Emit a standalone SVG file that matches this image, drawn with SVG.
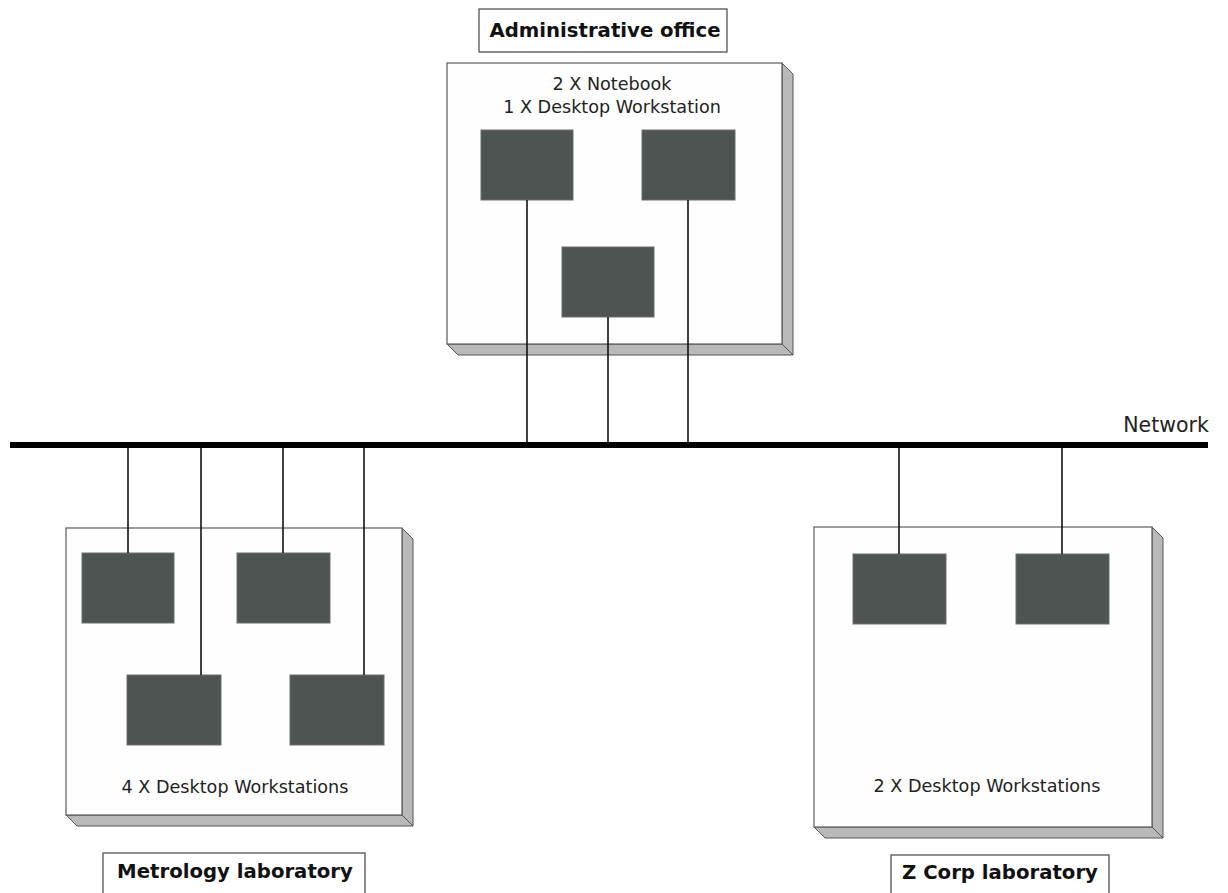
<svg xmlns="http://www.w3.org/2000/svg" width="1228" height="893" viewBox="0 0 1228 893">
  <style>
    .face { fill: #fefefe; stroke: #5a5a5a; stroke-width: 1.2; }
    .side { fill: #b9b9b9; stroke: #555; stroke-width: 1; }
    .pc { fill: #4e5451; stroke: #6a6f6c; stroke-width: 1; }
    .wire { stroke: #111; stroke-width: 1.6; fill: none; }
    .bus { stroke: #000; stroke-width: 6; }
    .title-box { fill: #fff; stroke: #444; stroke-width: 1.2; }
    .title { font-family: "DejaVu Sans", "Liberation Sans", sans-serif; font-weight: bold; font-size: 19.7px; fill: #111; text-anchor: middle; }
    .note { font-family: "DejaVu Sans", "Liberation Sans", sans-serif; font-size: 17.6px; fill: #222; text-anchor: middle; }
  </style>
  <rect width="1228" height="893" fill="#fff"/>

  <!-- Administrative office -->
  <g id="admin-office">
    <polygon class="side" points="782,63 793,74 793,355 782,344"/>
    <polygon class="side" points="447,344 782,344 793,355 458,355"/>
    <rect class="face" x="447" y="63" width="335" height="281"/>
    <text class="note" x="612" y="90">2 X Notebook</text>
    <text class="note" x="612" y="113">1 X Desktop Workstation</text>
    <rect class="pc" x="481" y="130" width="92" height="70"/>
    <rect class="pc" x="642" y="130" width="93" height="70"/>
    <rect class="pc" x="562" y="247" width="92" height="70"/>
  </g>
  <g id="admin-label">
    <rect class="title-box" x="479" y="9" width="248" height="43"/>
    <text class="title" x="605" y="37">Administrative office</text>
  </g>

  <!-- Metrology laboratory -->
  <g id="metrology-lab">
    <polygon class="side" points="402,528 413,539 413,826 402,815"/>
    <polygon class="side" points="66,815 402,815 413,826 77,826"/>
    <rect class="face" x="66" y="528" width="336" height="287"/>
    <rect class="pc" x="82" y="553" width="92" height="70"/>
    <rect class="pc" x="237" y="553" width="93" height="70"/>
    <rect class="pc" x="127" y="675" width="94" height="70"/>
    <rect class="pc" x="290" y="675" width="94" height="70"/>
    <text class="note" x="235" y="793">4 X Desktop Workstations</text>
  </g>
  <g id="metrology-label">
    <rect class="title-box" x="103" y="853" width="262" height="50"/>
    <text class="title" x="235" y="878">Metrology laboratory</text>
  </g>

  <!-- Z Corp laboratory -->
  <g id="zcorp-lab">
    <polygon class="side" points="1152,527 1163,538 1163,838 1152,827"/>
    <polygon class="side" points="814,827 1152,827 1163,838 825,838"/>
    <rect class="face" x="814" y="527" width="338" height="300"/>
    <rect class="pc" x="853" y="554" width="93" height="70"/>
    <rect class="pc" x="1016" y="554" width="93" height="70"/>
    <text class="note" x="987" y="792">2 X Desktop Workstations</text>
  </g>
  <g id="zcorp-label">
    <rect class="title-box" x="891" y="855" width="218" height="50"/>
    <text class="title" x="1000" y="879">Z Corp laboratory</text>
  </g>

  <!-- Network bus -->
  <g id="network">
    <line class="bus" x1="10" y1="445" x2="1208" y2="445"/>
    <text class="note" x="1166" y="432" style="font-size:20.5px">Network</text>
  </g>

  <!-- Drops from the bus to each machine -->
  <g id="connectors">
    <line class="wire" x1="527" y1="200" x2="527" y2="442"/>
    <line class="wire" x1="608" y1="317" x2="608" y2="442"/>
    <line class="wire" x1="688" y1="200" x2="688" y2="442"/>
    <line class="wire" x1="128" y1="448" x2="128" y2="553"/>
    <line class="wire" x1="201" y1="448" x2="201" y2="675"/>
    <line class="wire" x1="283" y1="448" x2="283" y2="553"/>
    <line class="wire" x1="364" y1="448" x2="364" y2="675"/>
    <line class="wire" x1="899" y1="448" x2="899" y2="554"/>
    <line class="wire" x1="1062" y1="448" x2="1062" y2="554"/>
  </g>
</svg>
